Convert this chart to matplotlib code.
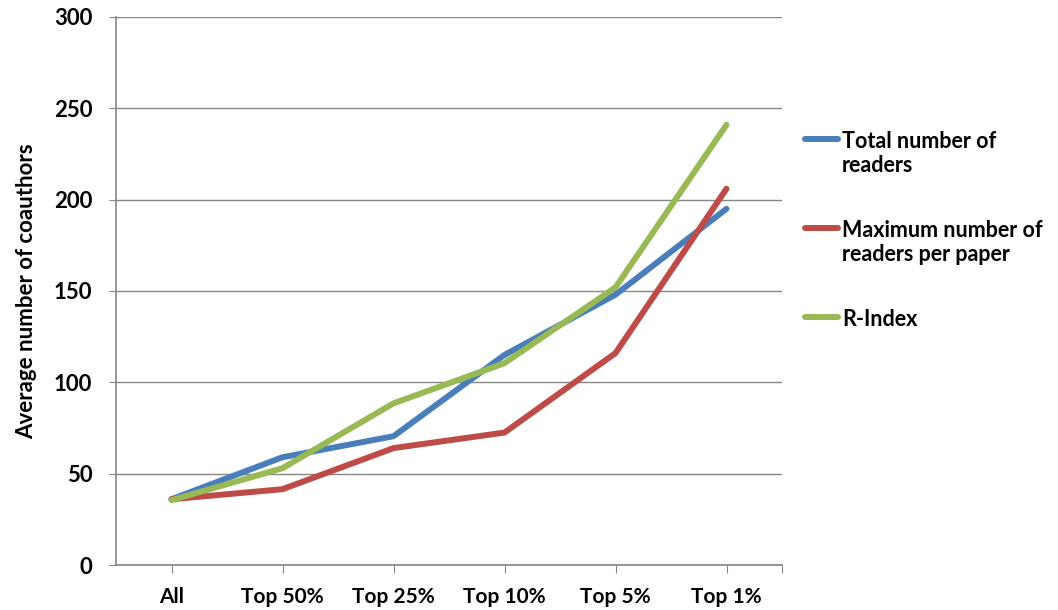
import matplotlib
matplotlib.use("Agg")
import matplotlib.pyplot as plt
from matplotlib.lines import Line2D

categories = ["All", "Top 50%", "Top 25%", "Top 10%", "Top 5%", "Top 1%"]
total_readers = [36, 59, 70.5, 115, 148, 195]
max_readers_per_paper = [36, 41.5, 64, 72.5, 116, 206]
r_index = [35.5, 53, 88.5, 110.5, 152, 241]

series_labels = ["Total number of\nreaders", "Maximum number of\nreaders per paper", "R-Index"]
series_colors = ["#4A7EBB", "#BE4B48", "#98B954"]
y_ticks = [0, 50, 100, 150, 200, 250, 300]

plt.rcParams["font.family"] = ["Lato", "DejaVu Sans"]
plt.rcParams["font.weight"] = "bold"

W, H = 1058, 610
fig = plt.figure(figsize=(W / 100, H / 100), dpi=100)
ax = fig.add_axes([116 / W, 1 - 565 / H, (782 - 116) / W, (565 - 17) / H])

x = list(range(len(categories)))
all_series = [total_readers, max_readers_per_paper, r_index]
for vals, col in zip(all_series, series_colors):
    ax.plot(x, vals, color=col, lw=4.3, solid_capstyle="round", solid_joinstyle="round", zorder=3)

ax.set_xlim(-0.5, len(categories) - 0.5)
ax.set_ylim(0, 300)
ax.set_yticks(y_ticks)
ax.set_yticklabels([str(v) for v in y_ticks], fontsize=16, fontweight="bold")
ax.set_xticks(x + [len(categories) - 0.5])
ax.set_xticklabels(categories + [""], fontsize=15, fontweight="bold")

grid_col = "#868686"
ax.yaxis.grid(True, color=grid_col, lw=1)
ax.set_axisbelow(True)
for s in ["top", "right"]:
    ax.spines[s].set_visible(False)
for s in ["left", "bottom"]:
    ax.spines[s].set_color(grid_col)
    ax.spines[s].set_linewidth(1.2)
ax.tick_params(axis="y", length=5, color=grid_col, pad=12)
ax.tick_params(axis="x", length=6, color=grid_col, pad=10)

ax.set_ylabel("Average number of coauthors", fontsize=16, fontweight="bold", labelpad=12)

# legend drawn in figure pixels: handle beside the first text line
legend_y = [139, 228, 317]
for lab, col, yy in zip(series_labels, series_colors, legend_y):
    fy = 1 - yy / H
    fig.add_artist(Line2D([805 / W, 838 / W], [fy, fy], transform=fig.transFigure,
                          color=col, lw=4.3, solid_capstyle="round"))
    fig.text(842 / W, 1 - (yy - 8) / H, lab, fontsize=15.5, fontweight="bold",
             va="top", ha="left", linespacing=1.2)

fig.savefig("out.png", dpi=100, facecolor="white")
